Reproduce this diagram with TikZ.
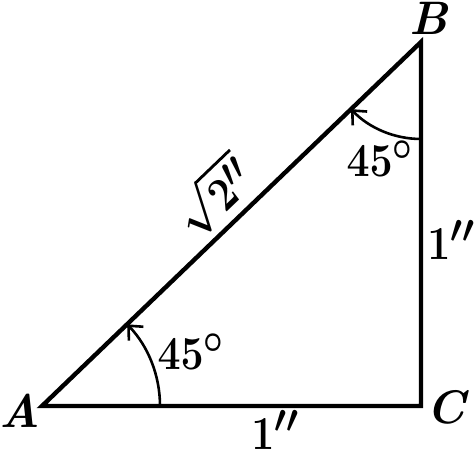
\documentclass[tikz,border=0pt]{standalone}
\usepackage{amsmath}
\usepackage{graphicx}
\usetikzlibrary{arrows.meta}
\newcommand{\bigmath}[1]{\scalebox{1.65}[1.9]{\Huge\bfseries\boldmath$#1$}}
\begin{document}
\begin{tikzpicture}[x=1pt,y=1pt,
  side/.style={line width=4.4pt, line join=miter},
  anglearc/.style={line width=2.6pt, -{Straight Barb[length=11pt,width=20pt,line width=2.6pt]}},
  lbl/.style={font=\fontsize{47}{52}\selectfont\bfseries\boldmath, inner sep=0pt}]
\useasboundingbox (0,0) rectangle (474,449);
\coordinate (A) at (42,43);
\coordinate (C) at (421,43);
\coordinate (B) at (421,407);
\draw[side] (A) -- (C) -- (B) -- cycle;
\draw[anglearc] (A) ++(0:118) arc[start angle=0, end angle=43.8, radius=118];
\draw[anglearc] (B) ++(-90:97) arc[start angle=-90, end angle=-136.2, radius=97];
\node[lbl] (la) at (20,38) {\itshape A};
\node[lbl] (lb) at (429,431) {\itshape B};
\node[lbl] (lc) at (446,42) {\itshape C};
\node[lbl] (ac) at (275,19) {\bigmath{1''}};
\node[lbl] (cb) at (451,209) {\bigmath{1''}};
\node[lbl] (aa) at (191,97) {\bigmath{45^\circ}};
\node[lbl] (ab) at (380,290) {\bigmath{45^\circ}};
\node[lbl, rotate=43.8] (ab2) at (213,254) {\bigmath{\sqrt{2''}}};
\end{tikzpicture}
\end{document}
